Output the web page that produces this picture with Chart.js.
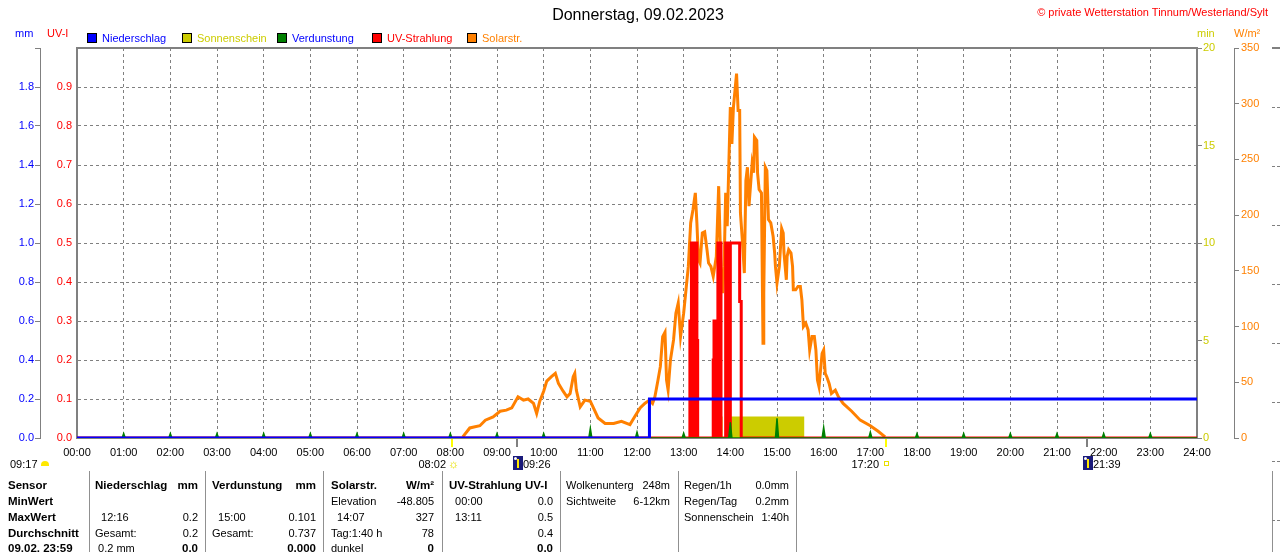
<!DOCTYPE html>
<html>
<head>
<meta charset="utf-8">
<title>Donnerstag, 09.02.2023</title>
<script src="https://cdn.jsdelivr.net/npm/chart.js@4.4.0/dist/chart.umd.min.js"></script>
<style>
  html, body { margin: 0; padding: 0; background: #fff; }
  #wrap { position: relative; width: 1280px; height: 552px; overflow: hidden;
          font-family: "Liberation Sans", Arial, sans-serif; }
  #c { position: absolute; left: 0; top: 0; }
  .t { position: absolute; font-size: 11px; line-height: 16px; height: 16px; white-space: pre; color: #000; }
  .box { position: absolute; width: 8px; height: 8px; border: 1px solid #000; }
</style>
</head>
<body>
<div id="wrap"><canvas id="c" width="1280" height="552"></canvas></div>
<script>
// ---- data (time in minutes since midnight) ----
const hourLabels = ['00:00','01:00','02:00','03:00','04:00','05:00','06:00','07:00','08:00','09:00','10:00','11:00','12:00',
                    '13:00','14:00','15:00','16:00','17:00','18:00','19:00','20:00','21:00','22:00','23:00','24:00'];

// Niederschlag, mm (cumulative)
const rainTimes = [0, 736, 1440];
const rainValues = [0, 0.2, 0.2];

// Sonnenschein, min
const sunTimes = [0, 789, 797, 817, 830, 838, 935, 1440];
const sunValues = [0, 1.1, 0, 1.1, 0, 1.1, 0, 0];

// Verdunstung, mm per hour
const evapHours = [1, 2, 3, 4, 5, 6, 7, 8, 9, 10, 11, 12, 13, 14, 15, 16, 17, 18, 19, 20, 21, 22, 23];
const evapValues = [0.023, 0.023, 0.023, 0.023, 0.023, 0.023, 0.023, 0.023, 0.023, 0.023, 0.05, 0.03,
                    0.025, 0.08, 0.101, 0.055, 0.03, 0.023, 0.023, 0.023, 0.023, 0.023, 0.023];

// UV-Strahlung, UV-I
const uvTimes = [0, 788, 789, 790, 791, 792, 793, 794, 795, 796, 797, 798,
                 818, 819, 820, 821, 822, 823, 824, 825, 826, 827, 828,
                 834, 835, 836, 837, 838, 839, 840, 852, 854, 1440];
const uvValues = [0, 0.3, 0, 0.5, 0, 0.5, 0, 0.5, 0, 0.5, 0.25, 0,
                  0.2, 0.3, 0, 0.3, 0, 0.3, 0.5, 0, 0.3, 0.5, 0,
                  0.5, 0, 0.5, 0, 0.5, 0, 0.5, 0.35, 0, 0];

// Solarstrahlung, W/m²
const solarTimes = [496,505,518,525,535,544,552,559,567,574,
                    580,587,591,595,600,604,610,615,619,625,
                    630,634,638,640,642,647,653,660,664,670,
                    679,690,700,711,717,724,730,736,740,743,
                    747,750,753,756,758,760,763,767,770,773,
                    776,780,783,786,789,792,795,797,799,801,
                    804,807,810,812,815,818,822,825,828,830,
                    832,834,836,840,842,844,846,848,850,852,
                    853,856,858,860,862,864,868,870,871,874,
                    875,877,880,882,883,885,887,889,892,895,
                    897,898,900,903,906,908,909,912,913,915,
                    918,920,921,924,927,930,932,934,937,940,
                    942,945,948,950,952,954,958,960,962,964,
                    967,970,975,979,985,996,1007,1020,1030,1039];
const solarValues = [1,9,11,16,19,24,25,27,37,34,
                     35,31,22,33,42,51,55,58,49,42,
                     37,40,55,58,43,28,34,33,27,18,
                     13,13,15,12,19,27,31,34,31,37,
                     52,64,91,95,52,43,70,88,112,121,
                     91,112,133,154,193,205,220,193,160,157,
                     184,185,169,157,154,145,163,226,148,130,
                     154,220,190,297,264,297,312,327,294,294,
                     202,172,148,231,243,208,246,238,270,267,
                     238,223,220,85,130,243,240,196,193,181,
                     166,154,139,154,188,184,166,142,163,169,
                     166,154,133,133,136,136,124,100,103,97,
                     79,91,91,79,52,46,76,79,58,55,
                     49,40,43,37,31,24,16,11,6,1];

const sunEvents = ['08:02', '17:20'];
const moonEvents = ['09:26', '21:39'];

// ---- helpers ----
const FONT = '"Liberation Sans", Arial, sans-serif';
const wrap = document.getElementById('wrap');
const toMin = (s) => { const [h, m] = s.split(':').map(Number); return h * 60 + m; };
const pts = (xs, ys) => xs.map((x, i) => ({ x, y: ys[i] }));

function put(text, x, y, o = {}) {
  const el = document.createElement('div');
  el.className = 't';
  el.textContent = text;
  el.style.top = (y - 8) + 'px';
  if (o.align === 'right') { el.style.left = (x - 300) + 'px'; el.style.width = '300px'; el.style.textAlign = 'right'; }
  else if (o.align === 'center') { el.style.left = (x - 300) + 'px'; el.style.width = '600px'; el.style.textAlign = 'center'; }
  else el.style.left = x + 'px';
  if (o.color) el.style.color = o.color;
  if (o.bold) el.style.fontWeight = 'bold';
  if (o.size) el.style.fontSize = o.size + 'px';
  wrap.appendChild(el);
  return el;
}

function block(x, y, w, h, css) {
  const el = document.createElement('div');
  el.style.position = 'absolute';
  el.style.left = x + 'px'; el.style.top = y + 'px';
  el.style.width = w + 'px'; el.style.height = h + 'px';
  Object.assign(el.style, css || {});
  wrap.appendChild(el);
  return el;
}

// evaporation spikes at each full hour
const evapData = [{ x: 0, y: 0 }];
evapHours.forEach((h, i) => {
  evapData.push({ x: h * 60 - 2, y: 0 }, { x: h * 60, y: evapValues[i] }, { x: h * 60 + 2, y: 0 });
});
evapData.push({ x: 1440, y: 0 });

// top frame and the sun/moon ticks below the time axis
const markers = {
  id: 'markers',
  afterDatasetsDraw(chart) {
    const { ctx, chartArea: a, scales: { x } } = chart;
    ctx.save();
    ctx.strokeStyle = '#808080';
    ctx.lineWidth = 2;
    ctx.beginPath();
    ctx.moveTo(a.left - 1, a.top);
    ctx.lineTo(a.right + 1, a.top);
    ctx.stroke();
    const tick = (t, c) => {
      const px = Math.round(x.getPixelForValue(toMin(t)));
      ctx.fillStyle = c;
      ctx.fillRect(px - 1, a.bottom + 1, 2, 8);
    };
    sunEvents.forEach((t) => tick(t, '#FFFF00'));
    moonEvents.forEach((t) => tick(t, '#808080'));
    ctx.restore();
  }
};

const font = { family: FONT, size: 11 };

const chart = new Chart(document.getElementById('c'), {
  type: 'line',
  data: {
    datasets: [
      { label: 'Niederschlag', data: pts(rainTimes, rainValues), yAxisID: 'yMm',
        borderColor: '#0000FF', borderWidth: 3, stepped: 'before', order: 1 },
      { label: 'Verdunstung', data: evapData, yAxisID: 'yMm',
        borderColor: '#008000', backgroundColor: '#008000', borderWidth: 1.5, fill: 'origin', order: 2 },
      { label: 'UV-Strahlung', data: pts(uvTimes, uvValues), yAxisID: 'yUv',
        borderColor: '#FF0000', borderWidth: 3, stepped: 'before', order: 3 },
      { label: 'Solarstr.', data: pts(solarTimes, solarValues), yAxisID: 'yW',
        borderColor: '#FF8000', borderWidth: 3, order: 4 },
      { label: 'Sonnenschein', data: pts(sunTimes, sunValues), yAxisID: 'yMin',
        borderColor: '#CCCC00', backgroundColor: '#CCCC00', borderWidth: 0, stepped: 'before', fill: 'origin', order: 5 }
    ]
  },
  options: {
    responsive: false,
    animation: false,
    devicePixelRatio: 1,
    layout: { padding: { top: 48, bottom: 94, left: 0, right: 0 } },
    plugins: { legend: { display: false }, tooltip: { enabled: false } },
    elements: { point: { radius: 0 }, line: { tension: 0 } },
    scales: {
      x: {
        type: 'linear', min: 0, max: 1440,
        ticks: { stepSize: 60, autoSkip: false, maxRotation: 0, color: '#000', font, padding: 8,
                 callback: (v) => hourLabels[Math.round(v / 60)] },
        grid: { color: '#808080', lineWidth: 1, drawTicks: false },
        border: { color: '#808080', width: 2, dash: [3, 3] },
        afterFit: (s) => { s.height = 20; }
      },
      yUv: {
        position: 'left', weight: 0, min: 0, max: 1,
        ticks: { stepSize: 0.1, color: '#FF0000', font, padding: 5,
                 callback: (v) => (v > 0.95 ? '' : v.toFixed(1)) },
        grid: { color: '#808080', lineWidth: 1, drawTicks: false },
        border: { color: '#808080', width: 2, dash: [3, 3] },
        afterFit: (s) => { s.width = 37; }
      },
      yMm: {
        position: 'left', weight: 1, min: 0, max: 2,
        ticks: { stepSize: 0.2, color: '#0000FF', font, padding: 1,
                 callback: (v) => (v > 1.95 ? '' : v.toFixed(1)) },
        grid: { drawOnChartArea: false, drawTicks: true, tickLength: 5, tickColor: '#808080' },
        border: { color: '#808080', width: 1 },
        afterFit: (s) => { s.width = 40; }
      },
      yMin: {
        position: 'right', weight: 0, min: 0, max: 20,
        ticks: { stepSize: 5, color: '#CCCC00', font, padding: 1 },
        grid: { drawOnChartArea: false, drawTicks: true, tickLength: 5, tickColor: '#808080' },
        border: { color: '#808080', width: 2 },
        afterFit: (s) => { s.width = 37; }
      },
      yW: {
        position: 'right', weight: 1, min: 0, max: 350,
        ticks: { stepSize: 50, color: '#FF8000', font, padding: 2 },
        grid: { drawOnChartArea: false, drawTicks: true, tickLength: 5, tickColor: '#808080' },
        border: { color: '#808080', width: 1 },
        afterFit: (s) => { s.width = 46; }
      }
    }
  },
  plugins: [markers]
});

// ---- texts around the chart ----
put('Donnerstag, 09.02.2023', 638, 15, { align: 'center', size: 16 });
put('© private Wetterstation Tinnum/Westerland/Sylt', 1268, 12, { align: 'right', color: '#FF0000' });
put('mm', 15, 33, { color: '#0000FF' });
put('UV-I', 47, 33, { color: '#FF0000' });
put('min', 1197, 33, { color: '#CCCC00' });
put('W/m²', 1234, 33, { color: '#FF8000' });

const legendItems = [
  ['Niederschlag', '#0000FF', '#0000FF', 87],
  ['Sonnenschein', '#CCCC00', '#CCCC00', 182],
  ['Verdunstung', '#008000', '#0000FF', 277],
  ['UV-Strahlung', '#FF0000', '#FF0000', 372],
  ['Solarstr.', '#FF8000', '#FF8000', 467]
];
legendItems.forEach(([name, fillC, textC, x]) => {
  const b = document.createElement('div');
  b.className = 'box';
  b.style.left = x + 'px'; b.style.top = '33px'; b.style.background = fillC;
  wrap.appendChild(b);
  put(name, x + 15, 38, { color: textC });
});

// sun and moon annotations under the time axis
const xs = chart.scales.x;
const px = (t) => Math.round(xs.getPixelForValue(toMin(t)));
put('09:17', 10, 464);
block(41, 461, 8, 5, { background: '#FFE800', borderRadius: '4px 4px 0 0' });
put('08:02', px(sunEvents[0]) - 6, 464, { align: 'right' });
put('☼', px(sunEvents[0]) - 4, 464, { color: '#E8E000', size: 12 });
put('17:20', px(sunEvents[1]) - 7, 464, { align: 'right' });
block(px(sunEvents[1]) - 2, 461, 3, 3, { border: '1px solid #E8E000' });
moonEvents.forEach((t) => {
  const m = px(t);
  block(m - 4, 456, 10, 14, { background: '#1A1A7A' });
  block(m, 459, 2, 9, { background: '#FFE800' });
  block(m - 3, 457, 3, 3, { background: '#FFFFFF', borderRadius: '2px' });
  put(t, m + 6, 464);
});

// ---- table ----
const tableRowNames = ['Sensor', 'MinWert', 'MaxWert', 'Durchschnitt', '09.02. 23:59'];
const tableRowY = [485, 501, 517, 533, 548];
const tableCols = [
  { left: 95, right: 198, bold: true, cells: [['Niederschlag', 'mm'], ['', ''], ['  12:16', '0.2'], ['Gesamt:', '0.2'], [' 0.2 mm', '0.0']] },
  { left: 212, right: 316, bold: true, cells: [['Verdunstung', 'mm'], ['', ''], ['  15:00', '0.101'], ['Gesamt:', '0.737'], ['', '0.000']] },
  { left: 331, right: 434, bold: true, cells: [['Solarstr.', 'W/m²'], ['Elevation', '-48.805'], ['  14:07', '327'], ['Tag:1:40 h', '78'], ['dunkel', '0']] },
  { left: 449, right: 553, bold: true, cells: [['UV-Strahlung UV-I', ''], ['  00:00', '0.0'], ['  13:11', '0.5'], ['', '0.4'], ['', '0.0']] },
  { left: 566, right: 670, bold: false, cells: [['Wolkenunterg', '248m'], ['Sichtweite', '6-12km'], ['', ''], ['', ''], ['', '']] },
  { left: 684, right: 789, bold: false, cells: [['Regen/1h', '0.0mm'], ['Regen/Tag', '0.2mm'], ['Sonnenschein', '1:40h'], ['', ''], ['', '']] }
];
const tableLines = [89, 205, 323, 442, 560, 678, 796, 1272];

tableRowNames.forEach((name, r) => put(name, 8, tableRowY[r], { bold: true, size: 11.5 }));
tableCols.forEach((col) => {
  col.cells.forEach(([l, rt], r) => {
    const head = r === 0 && col.bold;
    const last = r === 4 && col.bold;
    if (l) put(l, col.left, tableRowY[r], { bold: head, size: head ? 11.5 : 11 });
    if (rt) put(rt, col.right, tableRowY[r], { align: 'right', bold: head || last, size: head || last ? 11.5 : 11 });
  });
});
tableLines.forEach((x) => block(x, 471, 1, 81, { background: '#909090' }));

// edge of the neighbouring panel at the right border
block(1272, 47, 8, 2, { background: '#808080' });
for (let y = 107; y < 540; y += 59) {
  block(1272, y, 3, 1, { background: '#808080' });
  block(1277, y, 3, 1, { background: '#808080' });
}
</script>
</body>
</html>
